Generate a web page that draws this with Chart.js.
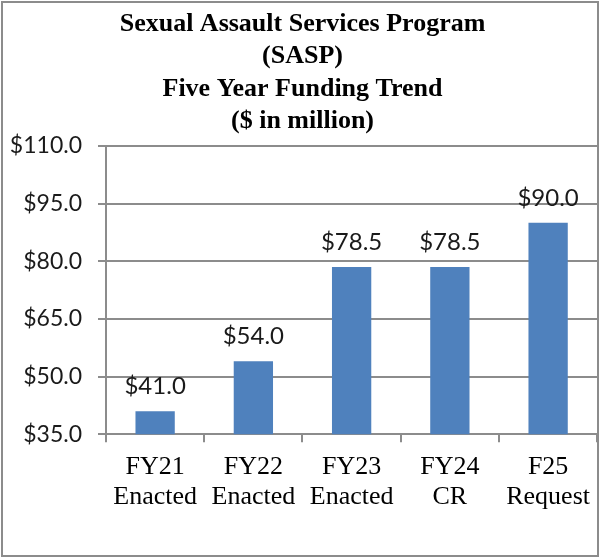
<!DOCTYPE html>
<html>
<head>
<meta charset="utf-8">
<script src="https://cdn.jsdelivr.net/npm/chart.js@4"></script>
<style>
  html, body { margin: 0; padding: 0; background: #fff; }
  #wrap { width: 600px; height: 559px; position: relative; }
</style>
</head>
<body>
<div id="wrap"><canvas id="grafico" width="600" height="559"></canvas></div>
<script>
const categorias = [['FY21', 'Enacted'], ['FY22', 'Enacted'], ['FY23', 'Enacted'], ['FY24', 'CR'], ['F25', 'Request']];
const valores = [41.0, 54.0, 78.5, 78.5, 90.0];
const titulo = ['Sexual Assault Services Program', '(SASP)', 'Five Year Funding Trend', '($ in million)'];

// borda externa e rótulos de dados
const extras = {
  id: 'extras',
  afterDraw(chart) {
    const ctx = chart.ctx;
    ctx.save();
    ctx.strokeStyle = '#8c8c8c';
    ctx.lineWidth = 2;
    ctx.strokeRect(2, 2, 596, 554);
    const meta = chart.getDatasetMeta(0);
    ctx.fillStyle = '#1a1a1a';
    ctx.font = '24px Lato';
    ctx.textAlign = 'center';
    ctx.textBaseline = 'bottom';
    meta.data.forEach((bar, i) => {
      ctx.fillText('$' + valores[i].toFixed(1), bar.x, bar.y - 13);
    });
    ctx.restore();
  }
};

const ctx = document.getElementById('grafico').getContext('2d');
new Chart(ctx, {
  type: 'bar',
  data: {
    labels: categorias,
    datasets: [{
      data: valores,
      backgroundColor: '#4f81bd',
      categoryPercentage: 1,
      barPercentage: 0.4
    }]
  },
  options: {
    responsive: false,
    animation: false,
    layout: { padding: { left: 5, right: 0, top: 8, bottom: 37 } },
    plugins: {
      legend: { display: false },
      tooltip: { enabled: false },
      title: {
        display: true,
        text: titulo,
        color: '#000',
        font: { family: 'Liberation Serif', size: 26, weight: 'bold', lineHeight: 1.25 },
        padding: { top: 0, bottom: 8 }
      }
    },
    scales: {
      x: {
        grid: { display: true, drawOnChartArea: false, color: '#8c8c8c', lineWidth: 2, tickLength: 8 },
        border: { color: '#8c8c8c', width: 2 },
        ticks: {
          color: '#000',
          font: { family: 'Liberation Serif', size: 26, lineHeight: 1.15 },
          maxRotation: 0,
          padding: 10
        }
      },
      y: {
        min: 35,
        max: 110,
        afterFit(scale) { scale.width = 101; },
        grid: { color: '#8c8c8c', lineWidth: 2, tickLength: 8 },
        border: { color: '#8c8c8c', width: 2 },
        ticks: {
          stepSize: 15,
          color: '#1a1a1a',
          font: { family: 'Lato', size: 23 },
          padding: 16,
          callback: v => '$' + v.toFixed(1)
        }
      }
    }
  },
  plugins: [extras]
});
</script>
</body>
</html>
